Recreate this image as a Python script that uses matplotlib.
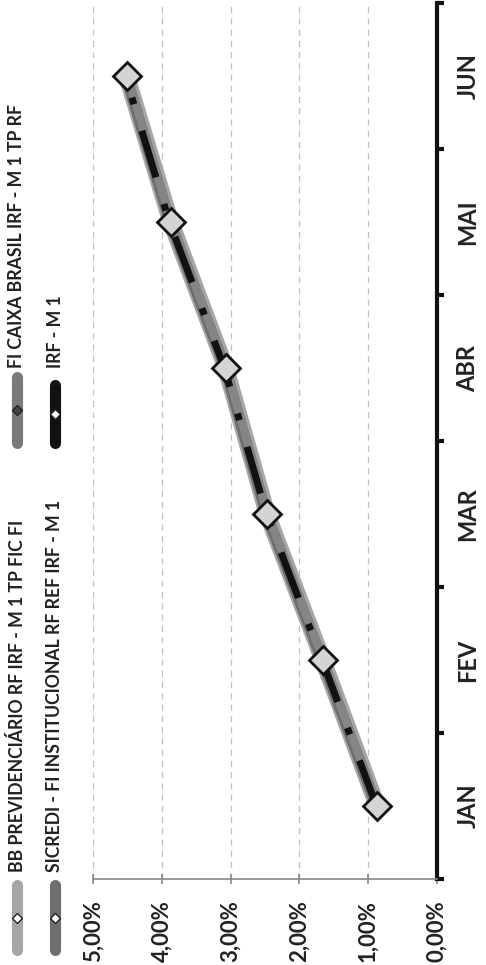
import matplotlib
matplotlib.use("Agg")
import matplotlib.pyplot as plt
from matplotlib.lines import Line2D
import numpy as np

months = ['JAN', 'FEV', 'MAR', 'ABR', 'MAI', 'JUN']
bb_prev = [0.87, 1.66, 2.47, 3.07, 3.87, 4.51]
fi_caixa = [0.86, 1.65, 2.46, 3.06, 3.86, 4.50]
sicredi = [0.88, 1.67, 2.48, 3.08, 3.88, 4.52]
irf_m1 = [0.88, 1.67, 2.48, 3.09, 3.89, 4.53]
value_ticks = [0, 1, 2, 3, 4, 5]
value_labels = ['0,00%', '1,00%', '2,00%', '3,00%', '4,00%', '5,00%']
series_names = ['BB PREVIDENCIÁRIO RF IRF - M 1 TP FIC FI',
                'FI CAIXA BRASIL IRF - M 1 TP RF',
                'SICREDI - FI INSTITUCIONAL RF REF IRF - M 1',
                'IRF - M 1']

plt.rcParams['font.family'] = ['Lato', 'DejaVu Sans']
W, H = 486, 965
fig = plt.figure(figsize=(W / 100, H / 100), dpi=100)
fig.patch.set_facecolor('white')

def fx(px):
    return px / W

def fy(py):
    return 1 - py / H

left, right, top, bottom = 93, 437, 3, 879
ax = fig.add_axes([fx(left), fy(bottom), fx(right) - fx(left), fy(top) - fy(bottom)])
pos = np.arange(len(months))

ax.plot(bb_prev, pos, color='#a6a6a6', lw=12, solid_capstyle='round', zorder=3)
ax.plot(sicredi, pos, color='#6e6e6e', lw=8, solid_capstyle='round', zorder=4)
ax.plot(fi_caixa, pos, color='#858585', lw=6, solid_capstyle='round', zorder=5)
ax.plot(irf_m1, pos, color='#111111', lw=5, linestyle=(0, (7, 4, 1, 4)), zorder=6)
ax.plot(bb_prev, pos, linestyle='none', marker='D', markersize=14,
        markerfacecolor='#d4d4d4', markeredgecolor='#111111', markeredgewidth=2, zorder=7)

ax.set_xlim(5, 0)
ax.set_ylim(-0.5, 5.5)

ax.set_xticks(value_ticks)
ax.set_xticklabels(value_labels, rotation=90, fontsize=16, fontweight='bold', color='#222222')
ax.tick_params(axis='x', direction='inout', length=7, width=1.2, color='#888888', pad=12)
ax.xaxis.grid(True, color='#c0c0c0', linestyle=(0, (5, 4)), lw=0.9)
ax.set_axisbelow(True)

ax.yaxis.tick_right()
ax.set_yticks(np.arange(-0.5, 6, 1))
ax.set_yticklabels([])
ax.set_yticks(pos, minor=True)
ax.set_yticklabels(months, minor=True, rotation=90, fontsize=17, fontweight='bold',
                   color='#222222', va='center')
ax.tick_params(axis='y', which='major', direction='out', length=5, width=3, color='#111111')
ax.tick_params(axis='y', which='minor', length=0, pad=14)

for s in ['left', 'top']:
    ax.spines[s].set_visible(False)
ax.spines['right'].set_color('#111111')
ax.spines['right'].set_linewidth(3)
ax.spines['bottom'].set_color('#888888')
ax.spines['bottom'].set_linewidth(1.2)

# manual rotated legend
leg = [
    (17, 885, 950, '#a6a6a6', 'white', series_names[0], 872),
    (17, 377, 443, '#7a7a7a', '#444444', series_names[1], 368),
    (55, 885, 950, '#6e6e6e', 'white', series_names[2], 872),
    (55, 385, 443, '#111111', 'white', series_names[3], 368),
]
for x, y0, y1, col, mcol, name, ty in leg:
    fig.add_artist(Line2D([fx(x), fx(x)], [fy(y0), fy(y1)], color=col, lw=8,
                          solid_capstyle='round', transform=fig.transFigure))
    fig.add_artist(Line2D([fx(x)], [fy((y0 + y1) / 2)], marker='D', markersize=5,
                          markerfacecolor=mcol, markeredgecolor='#222222', markeredgewidth=1,
                          transform=fig.transFigure))
    fig.text(fx(x), fy(ty), name, rotation=90, ha='center', va='bottom',
             fontsize=12.7, fontweight='bold', color='#222222')

fig.savefig('out.png', dpi=100)
